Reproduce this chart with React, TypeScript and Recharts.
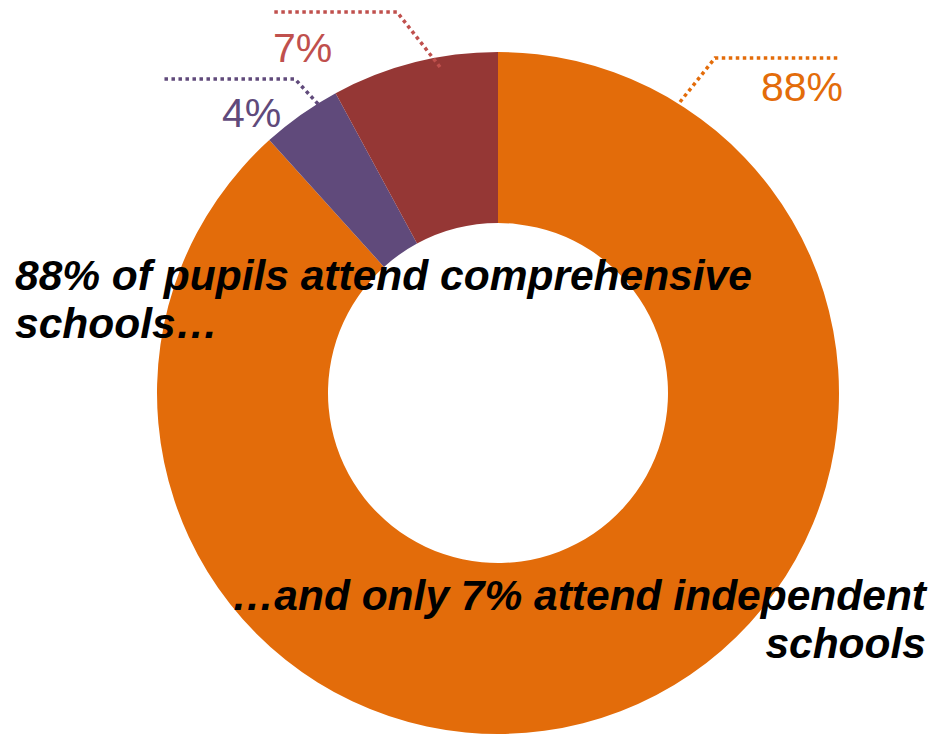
import React from "react";
import { PieChart, Pie, Cell } from "recharts";

// school type shares, clockwise from 12 o'clock
const sectors = ["Comprehensive", "Other state", "Independent"];
const shares = [88.3, 3.8, 7.9];
const shareLabels = ["88%", "4%", "7%"];
const fills = ["#E36C0A", "#604A7B", "#953735"];
const labelColors = ["#E36C0A", "#604A7B", "#C0504D"];

const leftNote = ["88% of pupils attend comprehensive", "schools\u2026"];
const rightNote = ["\u2026and only 7% attend independent", "schools"];

const data = sectors.map((name, i) => ({ name, value: shares[i] }));

// leader lines: points relative to the pie centre, text anchor and offset
const leaders = [
  { pts: [[182, -291], [217, -335], [342, -335]], tx: 345, ty: -292, anchor: "end" },
  { pts: [[-180, -289], [-203, -314], [-335, -314]], tx: -276, ty: -266, anchor: "start" },
  { pts: [[-58, -326], [-101, -381], [-227, -381]], tx: -225, ty: -331, anchor: "start" },
];

const renderLabel = (props: any) => {
  const { cx, cy, index } = props;
  const l = leaders[index];
  const path = l.pts.map((p, i) => `${i ? "L" : "M"}${cx + p[0]},${cy + p[1]}`).join(" ");
  return (
    <g key={index}>
      <path d={path} fill="none" stroke={labelColors[index]} strokeWidth={3.5} strokeDasharray="3.5 3.5" />
      <text
        x={cx + l.tx}
        y={cy + l.ty}
        textAnchor={l.anchor}
        fill={labelColors[index]}
        fontSize={41}
        fontFamily="Liberation Sans, Arial, sans-serif"
      >
        {shareLabels[index]}
      </text>
    </g>
  );
};

export default function App() {
  const noteStyle = {
    fontFamily: "Liberation Sans, Arial, sans-serif",
    fontWeight: 700,
    fontStyle: "italic",
    fontSize: 42.5,
  } as const;
  return (
    <div style={{ position: "absolute", left: 0, top: 0, width: 935, height: 735, background: "#fff" }}>
      <PieChart width={935} height={735} margin={{ top: 0, right: 0, bottom: 0, left: 0 }}>
        <Pie
          data={data}
          dataKey="value"
          cx={498}
          cy={393}
          innerRadius={170}
          outerRadius={341}
          startAngle={90}
          endAngle={-270}
          stroke="none"
          label={renderLabel}
          labelLine={false}
          isAnimationActive={false}
        >
          {data.map((d, i) => (
            <Cell key={d.name} fill={fills[i]} />
          ))}
        </Pie>
      </PieChart>
      <svg width={935} height={735} style={{ position: "absolute", left: 0, top: 0, pointerEvents: "none" }}>
        {leftNote.map((t, i) => (
          <text key={t} x={15} y={290 + i * 48} {...noteStyle} fill="#000">
            {t}
          </text>
        ))}
        {rightNote.map((t, i) => (
          <text key={t} x={926} y={610 + i * 48} textAnchor="end" {...noteStyle} fill="#000">
            {t}
          </text>
        ))}
      </svg>
    </div>
  );
}
